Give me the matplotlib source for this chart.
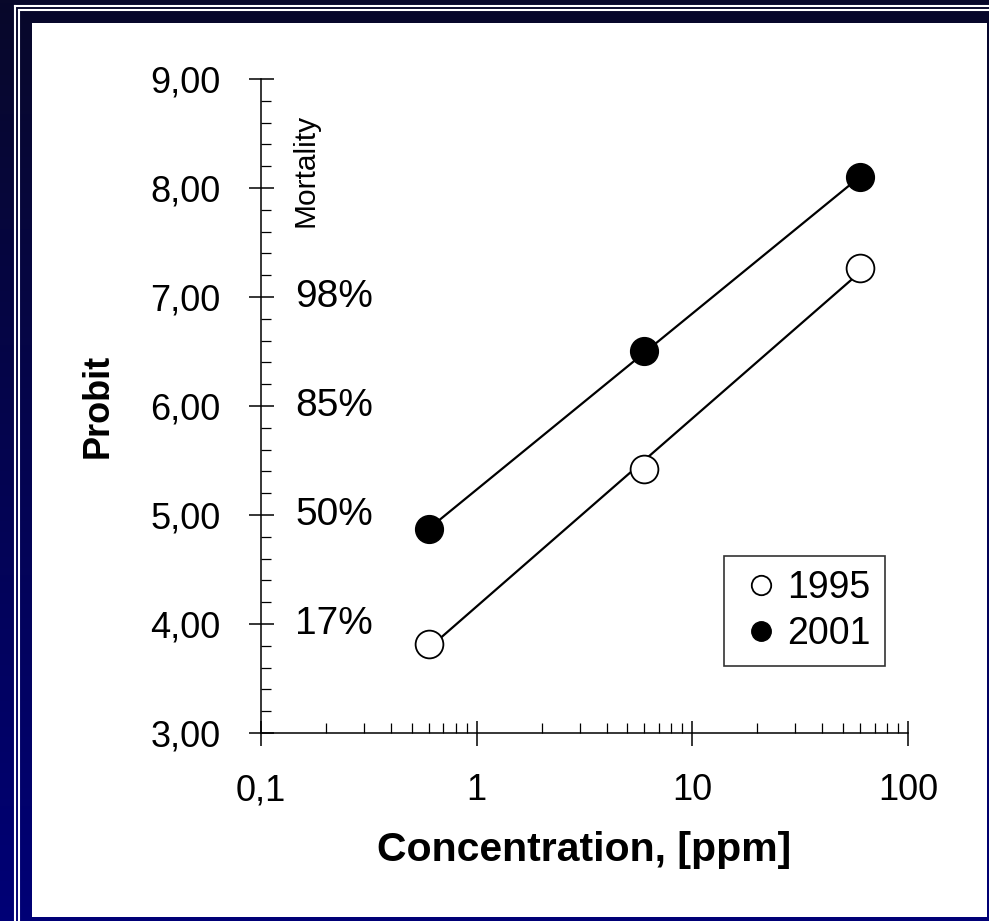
import numpy as np
import matplotlib.pyplot as plt
from matplotlib.patches import Rectangle
from matplotlib.lines import Line2D

plt.rcParams['font.family'] = ['Liberation Sans', 'DejaVu Sans']

conc = [0.6, 6, 60]
probit_1995 = [3.82, 5.42, 7.27]
probit_2001 = [4.87, 6.50, 8.10]
mortality_levels = [7.0, 6.0, 5.0, 4.0]
mortality_labels = ['98%', '85%', '50%', '17%']
xtick_vals = [0.1, 1, 10, 100]
xtick_labels = ['0,1', '1', '10', '100']
ytick_vals = [3, 4, 5, 6, 7, 8, 9]

W, H = 989, 921
fig = plt.figure(figsize=(W / 100, H / 100), dpi=100)

# navy backdrop with the white double frame
bg = fig.add_axes([0, 0, 1, 1])
bg.set_xlim(0, W)
bg.set_ylim(H, 0)
bg.axis('off')
grad = np.linspace(0, 1, 256)[:, None]
cols = np.array([8, 8, 42]) / 255 * (1 - grad[..., None]) + np.array([0, 0, 118]) / 255 * grad[..., None]
bg.imshow(np.repeat(cols, 2, axis=1), extent=[0, W, H, 0], aspect='auto', zorder=0)
for off in [14.5, 18.5]:
    top = off - 8
    bg.add_line(Line2D([off, off], [top, H], color='white', lw=1.5, zorder=1))
    bg.add_line(Line2D([off, W], [top, top], color='white', lw=1.5, zorder=1))
bg.add_patch(Rectangle((32, 23), 986.5 - 32, 916.5 - 23, facecolor='white',
                       edgecolor='none', zorder=2))

ax = fig.add_axes([261 / W, (H - 733) / H, (908 - 261) / W, (733 - 79) / H])
ax.set_facecolor('none')
ax.set_xscale('log')
ax.set_xlim(0.1, 100)
ax.set_ylim(3, 9)

# fitted probit lines through each year's points
for ys in [probit_1995, probit_2001]:
    k, b = np.polyfit(np.log10(conc), ys, 1)
    xs = np.array([conc[0], conc[-1]])
    ax.plot(xs, k * np.log10(xs) + b, color='black', lw=1.6, zorder=2)

ax.plot(conc, probit_1995, 'o', ms=20, mfc='white', mec='black', mew=1.3,
        ls='none', label='1995', zorder=3)
ax.plot(conc, probit_2001, 'o', ms=20, mfc='black', mec='black',
        ls='none', label='2001', zorder=3)

for yv, lab in zip(mortality_levels, mortality_labels):
    ax.text(0.1438, yv, lab, fontsize=28, ha='left', va='center')
ax.text(0.16, 8.16, 'Mortality', fontsize=21.5, rotation=90, ha='center', va='center')

for s in ['top', 'right']:
    ax.spines[s].set_visible(False)
for s in ['left', 'bottom']:
    ax.spines[s].set_linewidth(1.1)

ax.set_xticks(xtick_vals)
ax.set_xticklabels(xtick_labels)
ax.set_yticks(ytick_vals)
ax.set_yticklabels([('%.2f' % v).replace('.', ',') for v in ytick_vals])
ax.yaxis.set_minor_locator(plt.MultipleLocator(0.2))
ax.tick_params(which='major', direction='inout', length=18, width=1.1,
               labelsize=26, pad=20)
ax.tick_params(which='minor', direction='in', length=7.5, width=0.9)

ax.set_ylabel('Probit', fontsize=26, fontweight='bold', labelpad=25)
ax.set_xlabel('Concentration, [ppm]', fontsize=29.5, fontweight='bold', labelpad=16)

leg = ax.legend(loc='lower right', bbox_to_anchor=(0.9645, 0.1024), fontsize=27,
                markerscale=0.7, handlelength=1.2, handletextpad=0.1,
                borderpad=0.38, labelspacing=0.25, borderaxespad=0,
                fancybox=False, edgecolor='#333333', framealpha=1)
leg.get_frame().set_linewidth(1.2)

fig.savefig('out.png', dpi=100)
